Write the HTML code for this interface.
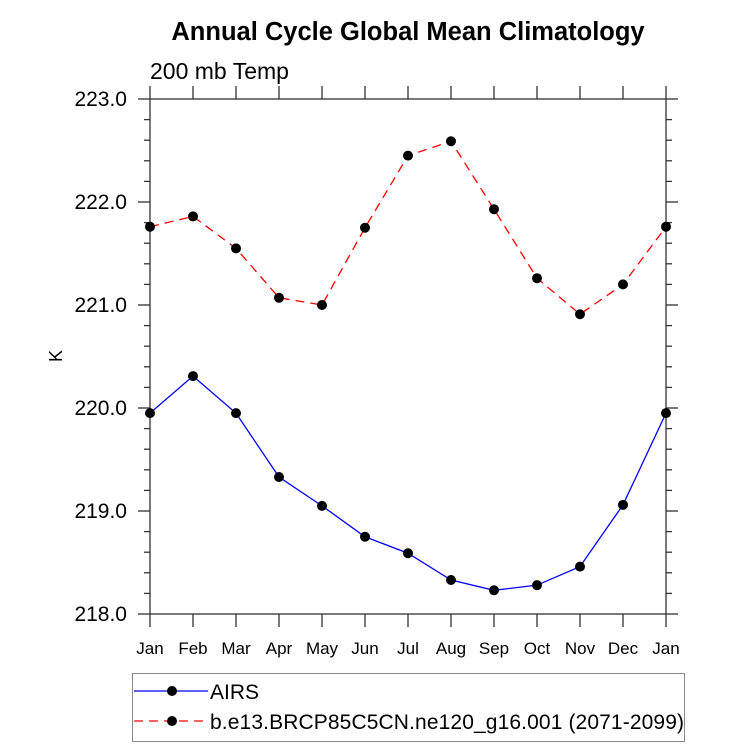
<!DOCTYPE html>
<html><head><meta charset="utf-8"><style>body{margin:0;background:#fff}svg{display:block;font-family:"Liberation Sans",sans-serif}</style></head>
<body>
<svg id="c" width="733" height="748">
<text x="408" y="40" text-anchor="middle" font-size="25.5" font-weight="bold">Annual Cycle Global Mean Climatology</text>
<text x="150" y="79" font-size="23">200 mb Temp</text>
<text x="62" y="356" font-size="18" text-anchor="middle" transform="rotate(-90 62 356)">K</text>
<g id="axes"></g><g id="series"></g>
<g>
<rect x="132.5" y="673.5" width="552" height="68" fill="none" stroke="#888"/>
<line x1="134" y1="691" x2="208" y2="691" stroke="#00f" stroke-width="1.3"/>
<circle cx="172" cy="691" r="5" fill="#000"/>
<text x="210" y="699" font-size="21">AIRS</text>
<line x1="134" y1="721" x2="208" y2="721" stroke="#f00" stroke-width="1.3" stroke-dasharray="9,6"/>
<circle cx="172" cy="721" r="5" fill="#000"/>
<text x="210" y="729" font-size="21" textLength="474">b.e13.BRCP85C5CN.ne120_g16.001 (2071-2099)</text>
</g>
</svg>
<script>
const months=["Jan","Feb","Mar","Apr","May","Jun","Jul","Aug","Sep","Oct","Nov","Dec","Jan"];
const airs=[219.95,220.31,219.95,219.33,219.05,218.75,218.59,218.33,218.23,218.28,218.46,219.06,219.95];
const model=[221.76,221.86,221.55,221.07,221.0,221.75,222.45,222.59,221.93,221.26,220.91,221.20,221.76];
const yTicks=["218.0","219.0","220.0","221.0","222.0","223.0"];
const L=150,R=666,T=99,B=614,ymin=218,ymax=223;
const X=i=>L+i*(R-L)/(months.length-1);
const Y=v=>B-(v-ymin)/(ymax-ymin)*(B-T);
const NS="http://www.w3.org/2000/svg";
function mk(p,t,a){const e=document.createElementNS(NS,t);for(const k in a)e.setAttribute(k,a[k]);p.appendChild(e);return e;}
const ax=document.getElementById('axes'),sr=document.getElementById('series');
const fr=mk(ax,'rect',{x:L,y:T,width:R-L,height:B-T,fill:'none',stroke:'#333','stroke-width':1.3});


const s='#333';
months.forEach((m,i)=>{const x=X(i);
mk(ax,'line',{x1:x,y1:B,x2:x,y2:B+13,stroke:s,'stroke-width':1.3});
mk(ax,'line',{x1:x,y1:T,x2:x,y2:T-13,stroke:s,'stroke-width':1.3});
const t=mk(ax,'text',{x:x,y:B+40,'text-anchor':'middle','font-size':17});t.textContent=m;


});
for(let v=ymin;v<=ymax+1e-9;v+=0.2){const y=Y(v);const maj=Math.abs(v-Math.round(v))<1e-6;const len=maj?12:6;
mk(ax,'line',{x1:L,y1:y,x2:L-len,y2:y,stroke:s,'stroke-width':1.3});
mk(ax,'line',{x1:R,y1:y,x2:R+len,y2:y,stroke:s,'stroke-width':1.3});}
yTicks.forEach(l=>{const t=mk(ax,'text',{x:L-23,y:Y(parseFloat(l))+7,'text-anchor':'end','font-size':21});t.textContent=l;

});
function draw(d,col,dash,name){
const pl=mk(sr,'polyline',{points:d.map((v,i)=>X(i)+','+Y(v)).join(' '),fill:'none',stroke:col,'stroke-width':1.3,'stroke-dasharray':dash});


d.forEach((v,i)=>{const c=mk(sr,'circle',{cx:X(i),cy:Y(v),r:5,fill:'#000'});

});}
draw(model,'#f00','9,6','model');
draw(airs,'#00f','none','airs');
</script>
</body></html>
